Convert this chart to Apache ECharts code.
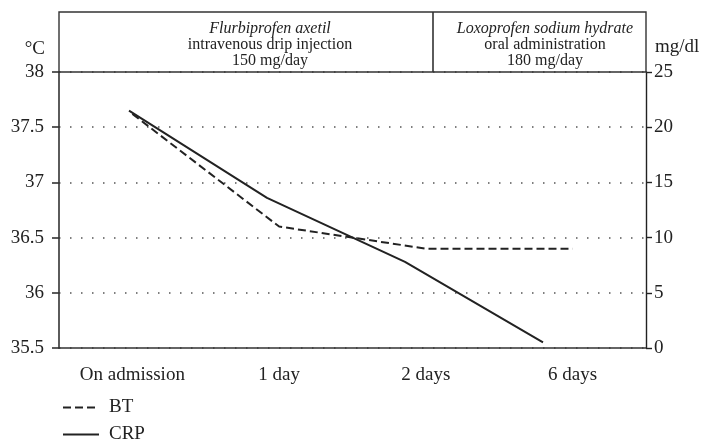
<!DOCTYPE html>
<html>
<head>
<meta charset="utf-8">
<script src="https://cdn.jsdelivr.net/npm/echarts@6/dist/echarts.min.js"></script>
<style>
  html, body { margin: 0; padding: 0; background: #fff; }
  #chart { width: 705px; height: 443px; }
</style>
</head>
<body>
<div id="chart"></div>
<script>
  // data
  const days = ['On admission', '1 day', '2 days', '6 days']
  const bt = [37.62, 36.6, 36.4, 36.4]      // body temperature, ºC (left axis)
  const crp = [21.5, 13.6, 7.8, 0.5]        // CRP, mg/dl (right axis)
  const tempTicks = [35.5, 38, 0.5]         // min, max, step
  const crpTicks = [0, 25, 5]

  const serif = '"Liberation Serif", "DejaVu Serif", serif'
  const ink = '#222'

  const chart = echarts.init(document.getElementById('chart'))

  // header text with the two treatment periods
  function headerText(x, y, text, italic) {
    return {
      type: 'text', x: x, y: y, z: 10,
      style: {
        text: text, align: 'center', verticalAlign: 'middle',
        fontSize: 16, fontFamily: serif, fontStyle: italic ? 'italic' : 'normal', fill: ink
      }
    }
  }

  const option = {
    animation: false,
    backgroundColor: '#fff',
    textStyle: { fontFamily: serif },
    grid: [
      { left: 59, right: 59, top: 72, bottom: 95 },
      // CRP curve sits on a slightly narrower spacing in the figure
      { left: 60, right: 93, top: 72, bottom: 95 }
    ],
    legend: {
      orient: 'vertical', left: 57, top: 393, height: 60,
      itemWidth: 36, itemHeight: 18, itemGap: 8,
      itemStyle: { opacity: 0 },
      textStyle: { fontSize: 19, color: ink, fontFamily: serif, padding: [0, 0, 0, 5] },
      data: ['BT', 'CRP']
    },
    xAxis: [
      {
        type: 'category', gridIndex: 0, data: days, boundaryGap: true,
        axisLine: { lineStyle: { color: '#333', width: 1.6 } },
        axisTick: { length: 7, interval: 0, lineStyle: { color: '#333', width: 1.6 } },
        axisLabel: { fontSize: 19, color: ink, margin: 18, interval: 0, fontFamily: serif }
      },
      { type: 'category', gridIndex: 1, data: days, boundaryGap: true, show: false }
    ],
    yAxis: [
      {
        type: 'value', gridIndex: 0, min: tempTicks[0], max: tempTicks[1], interval: tempTicks[2],
        name: '°C', nameLocation: 'end', nameGap: 23,
        nameTextStyle: { fontSize: 19, color: ink, align: 'right', verticalAlign: 'middle', padding: [0, 14, 0, 0], fontFamily: serif },
        axisLine: { show: true, lineStyle: { color: '#333', width: 1.6 } },
        axisTick: { show: true, length: 7, lineStyle: { color: '#333', width: 1.6 } },
        axisLabel: { fontSize: 19, color: ink, margin: 15, fontFamily: serif },
        splitLine: { show: true, lineStyle: { color: '#555', width: 1.5, type: [1.5, 9.5] } }
      },
      {
        type: 'value', gridIndex: 0, position: 'right', min: crpTicks[0], max: crpTicks[1], interval: crpTicks[2],
        name: 'mg/dl', nameLocation: 'end', nameGap: 25,
        nameTextStyle: { fontSize: 19, color: ink, align: 'left', verticalAlign: 'middle', padding: [0, 0, 0, 9], fontFamily: serif },
        axisLine: { show: true, lineStyle: { color: '#222', width: 1.4 } },
        axisTick: { show: true, length: 6, lineStyle: { color: '#222', width: 1.4 } },
        axisLabel: { fontSize: 19, color: ink, margin: 8, fontFamily: serif },
        splitLine: { show: false }
      },
      { type: 'value', gridIndex: 1, min: crpTicks[0], max: crpTicks[1], show: false, splitLine: { show: false } }
    ],
    graphic: [
      {
        type: 'rect', z: 10,
        shape: { x: 59, y: 12, width: 587, height: 60 },
        style: { fill: 'none', stroke: '#333', lineWidth: 1.4 }
      },
      {
        type: 'line', z: 10,
        shape: { x1: 433, y1: 12, x2: 433, y2: 72 },
        style: { stroke: '#333', lineWidth: 1.6 }
      },
      headerText(270, 29, 'Flurbiprofen axetil', true),
      headerText(270, 45, 'intravenous drip injection', false),
      headerText(270, 61, '150 mg/day', false),
      headerText(545, 29, 'Loxoprofen sodium hydrate', true),
      headerText(545, 45, 'oral administration', false),
      headerText(545, 61, '180 mg/day', false)
    ],
    series: [
      {
        name: 'BT', type: 'line', xAxisIndex: 0, yAxisIndex: 0, data: bt,
        symbol: 'none', color: ink,
        lineStyle: { color: ink, width: 2, type: [8, 4] }
      },
      {
        name: 'CRP', type: 'line', xAxisIndex: 1, yAxisIndex: 2, data: crp,
        symbol: 'none', color: ink,
        lineStyle: { color: ink, width: 2 }
      }
    ]
  }

  chart.setOption(option)
</script>
</body>
</html>
